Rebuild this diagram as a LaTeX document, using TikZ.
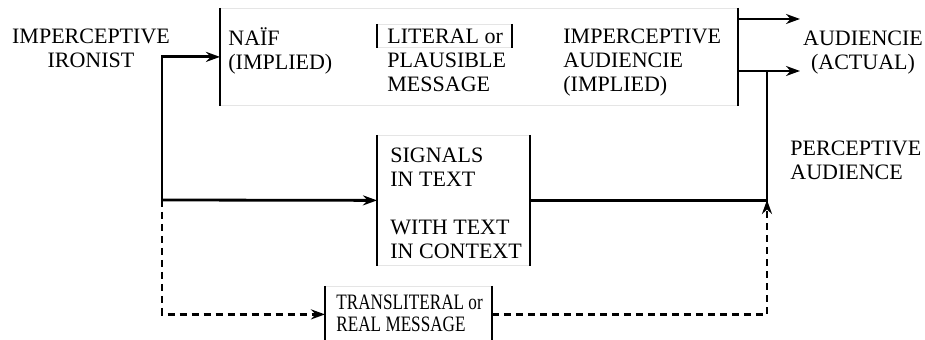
\documentclass[tikz,border=0pt]{standalone}
\usepackage{fontspec}
\setmainfont{Liberation Serif}
\usepackage{graphicx}
\usetikzlibrary{arrows.meta}

\tikzset{frame/.style={draw=black!10, line width=0.4pt, inner sep=0pt, anchor=north west}}
\tikzset{side/.style={line width=0.9pt}}
\tikzset{txt/.style={align=left, anchor=base west, inner sep=0pt, font=\fontsize{11}{12}\selectfont}}
\tikzset{plain/.style={line width=1.4pt}}
\tikzset{flow/.style={plain, -{Stealth[length=7pt,width=5pt]}}}
\tikzset{dflow/.style={flow, dash pattern=on 3.5pt off 2.5pt}}

\newcommand{\narrow}[1]{\scalebox{0.78}[1]{#1}}

\begin{document}
\begin{tikzpicture}[x=0.5pt,y=-0.5pt]

	  \useasboundingbox (0,0) rectangle (925,340);

	  % boxes
	  \node [frame, minimum width=258.5pt, minimum height=48.5pt] (msg) at (220,8) {};
	  \node [frame, minimum width=67pt, minimum height=11.5pt] (lit) at (377,24) {};
	  \node [frame, minimum width=76pt, minimum height=65pt] (sig) at (377,135) {};
	  \node [frame, minimum width=83pt, minimum height=28pt] (trans) at (325,286) {};

	  \foreach \b in {msg,lit,sig,trans}
	    \draw [side] (\b.north west) -- (\b.south west) (\b.north east) -- (\b.south east);

	  % texts (base = last line)
	  \node [txt, align=center, anchor=base] (ironist) at (91,68) {IMPERCEPTIVE\\IRONIST};
	  \node [txt] (naif) at (228,70) {NAÏF\\(IMPLIED)};
	  \node [txt] (literal) at (387,92) {LITERAL or\\PLAUSIBLE\\MESSAGE};
	  \node [txt] (implied) at (563,92) {IMPERCEPTIVE\\AUDIENCIE\\(IMPLIED)};
	  \node [txt, align=center, anchor=base] (actual) at (863,70) {AUDIENCIE\\(ACTUAL)};
	  \node [txt] (signals) at (390,259) {SIGNALS\\IN TEXT\\[12pt]WITH TEXT\\IN CONTEXT};
	  \node [txt] (perceptive) at (790,180) {PERCEPTIVE\\AUDIENCE};
	  \node [txt] (translit) at (336,332) {\narrow{TRANSLITERAL or}\\[-1pt]\narrow{REAL MESSAGE}};

	  % connectors
	  \coordinate (split) at (162,200);
	  \coordinate (join) at (767,200);
	  \coordinate (out1) at (800,19);
	  \coordinate (out2) at (800,71);

	  \draw [flow] (split) |- (msg.west);
	  \draw [flow] (split) -- (sig.west);
	  \draw [dflow] (split) |- (trans.west);

	  \draw [flow] (msg.east |- out1) -- (out1);
	  \draw [flow] (msg.east |- out2) -- (out2);
	  \draw [plain] (sig.east) -| (join |- out2);
	  \draw [dflow] (trans.east) -| (join);

\end{tikzpicture}
\end{document}
